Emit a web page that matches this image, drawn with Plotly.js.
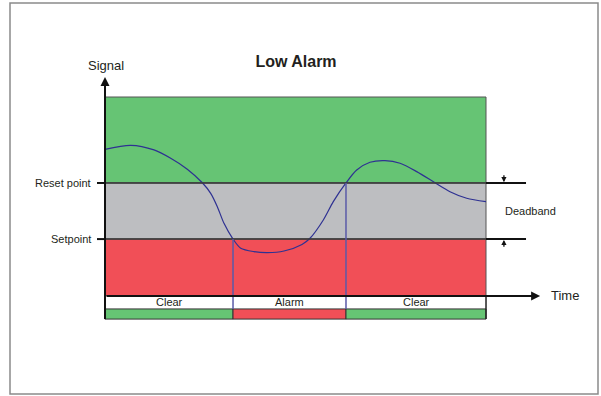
<!DOCTYPE html>
<html>
<head>
<meta charset="utf-8">
<script src="https://cdn.plot.ly/plotly-3.0.1.min.js"></script>
<style>html,body{margin:0;padding:0;background:#fff;}#chart{width:601px;height:396px;}</style>
</head>
<body>
<div id="chart"></div>
<script>
// ---- data ----
const timeVals   = [0, 6.75, 12.86, 17.24, 21.6, 25.54, 27.74, 29.48, 31.23, 33.6, 35.62, 39.11, 42.6, 46.98, 51.7, 53.8, 57.3, 59.92, 63.25, 66.06, 69.55, 73.49, 77.43, 81.81, 86.61, 90.55, 94.93, 100];
const signalVals = [73.7, 75.7, 73.4, 69.2, 63.7, 56.9, 51.6, 44.9, 36.5, 28.6, 24.0, 22.3, 21.8, 22.6, 25.9, 29.0, 38.2, 47.4, 56.8, 63.3, 67.2, 68.0, 66.7, 62.5, 56.9, 52.4, 49.1, 47.4];
const setpoint = 28.6;
const resetPoint = 56.8;
const signalTop = 100;
const timeEnd = 100;
const stateLabels = ['Clear', 'Alarm', 'Clear'];
const stateStarts = [0, 33.6, 63.25];
const stateEnds   = [33.6, 63.25, 100];
const stateKinds  = ['clear', 'alarm', 'clear'];
const levelLabels = ['Reset point', 'Setpoint'];
const levelValues = [resetPoint, setpoint];

// ---- styles ----
const GREEN = '#66c474', GRAY = '#bdbec1', RED = '#f14f57';
const TXT = '#231f20';
const FONT = 'Liberation Sans, Arial, sans-serif';
const rowH = 6.5, barH = 5.1;

const shapes = [];
// outer frame
shapes.push({type:'rect', xref:'paper', yref:'paper', x0:10/601, x1:598/601, y0:1-394/396, y1:1-3/396,
  line:{color:'#8a8a8a', width:1.5}, fillcolor:'rgba(0,0,0,0)', layer:'below'});
// bands
shapes.push({type:'rect', x0:0, x1:timeEnd, y0:resetPoint, y1:signalTop, fillcolor:GREEN, line:{color:'#555', width:1}, layer:'below'});
shapes.push({type:'rect', x0:0, x1:timeEnd, y0:setpoint, y1:resetPoint, fillcolor:GRAY, line:{color:'#555', width:1}, layer:'below'});
shapes.push({type:'rect', x0:0, x1:timeEnd, y0:0, y1:setpoint, fillcolor:RED, line:{color:'#555', width:1}, layer:'below'});
// level lines and extensions
levelValues.forEach(v => {
  shapes.push({type:'line', x0:0, x1:timeEnd, y0:v, y1:v, line:{color:'#3a3a3a', width:1.5}});
  shapes.push({type:'line', x0:timeEnd, x1:110.5, y0:v, y1:v, line:{color:'#111', width:2}});
  shapes.push({type:'line', x0:-2.1, x1:0, y0:v, y1:v, line:{color:'#111', width:2}});
});
// status row and colour bar
stateLabels.forEach((lab, i) => {
  shapes.push({type:'rect', x0:stateStarts[i], x1:stateEnds[i], y0:-rowH, y1:0, fillcolor:'#fff', line:{width:0}});
  shapes.push({type:'rect', x0:stateStarts[i], x1:stateEnds[i], y0:-rowH-barH, y1:-rowH,
    fillcolor: stateKinds[i] === 'alarm' ? RED : GREEN, line:{color:'#333', width:1}});
});
shapes.push({type:'line', x0:timeEnd, x1:timeEnd, y0:-rowH-barH, y1:0, line:{color:'#222', width:1.5}});
shapes.push({type:'line', x0:0, x1:0, y0:-rowH-barH, y1:0, line:{color:'#111', width:2}});
// transition lines
shapes.push({type:'line', x0:stateStarts[1], x1:stateStarts[1], y0:-rowH, y1:setpoint, line:{color:'#5a5aa8', width:1.5}});
shapes.push({type:'line', x0:stateStarts[2], x1:stateStarts[2], y0:-rowH, y1:resetPoint, line:{color:'#5a5aa8', width:1.5}});

const ann = [];
// axes with arrows
ann.push({x:0, y:110, ax:0, ay:-rowH-barH, axref:'x', ayref:'y', xref:'x', yref:'y', text:'', showarrow:true,
  arrowhead:2, arrowsize:0.9, arrowwidth:2, arrowcolor:'#111'});
ann.push({x:114.2, y:0, ax:0, ay:0, axref:'x', ayref:'y', xref:'x', yref:'y', text:'', showarrow:true,
  arrowhead:2, arrowsize:0.9, arrowwidth:2, arrowcolor:'#111'});
// deadband small arrows
ann.push({x:104.7, y:resetPoint + 0.4, ax:104.7, ay:resetPoint + 4.6, axref:'x', ayref:'y', text:'', showarrow:true,
  arrowhead:2, arrowsize:0.8, arrowwidth:1.3, arrowcolor:'#111'});
ann.push({x:104.7, y:setpoint - 0.4, ax:104.7, ay:setpoint - 4.6, axref:'x', ayref:'y', text:'', showarrow:true,
  arrowhead:2, arrowsize:0.8, arrowwidth:1.3, arrowcolor:'#111'});
// texts
ann.push({x:0.3, y:115.6, text:'Signal', showarrow:false, font:{family:FONT, size:13, color:TXT}});
ann.push({x:116.5, y:0.4, text:'Time', showarrow:false, xanchor:'left', font:{family:FONT, size:13, color:TXT}});
ann.push({x:104.5, y:(setpoint + resetPoint) / 2, text:'Deadband', showarrow:false, xanchor:'left', font:{family:FONT, size:11, color:TXT}});
levelLabels.forEach((lab, i) => {
  ann.push({x:-3.2, y:levelValues[i], text:lab, showarrow:false, xanchor:'right', font:{family:FONT, size:11, color:TXT}});
});
stateLabels.forEach((lab, i) => {
  ann.push({x:(stateStarts[i] + stateEnds[i]) / 2, y:-rowH / 2, text:lab, showarrow:false, font:{family:FONT, size:11, color:TXT}});
});

const trace = {x:timeVals, y:signalVals, mode:'lines', type:'scatter',
  line:{color:'#2e3192', width:1.2, shape:'spline', smoothing:0.8}, hoverinfo:'skip', cliponaxis:false};

const layout = {
  width:601, height:396, margin:{l:0, r:0, t:0, b:0},
  paper_bgcolor:'#fff', plot_bgcolor:'#fff', showlegend:false,
  title:{text:'<b>Low Alarm</b>', x:296/601, y:1 - 61/396, xanchor:'center', yanchor:'middle',
    font:{family:FONT, size:16, color:TXT}},
  xaxis:{range:[-27.56, 130.18], visible:false, fixedrange:true},
  yaxis:{range:[-50.25, 148.74], visible:false, fixedrange:true},
  shapes:shapes, annotations:ann
};
Plotly.newPlot('chart', [trace], layout, {displayModeBar:false, staticPlot:true});
</script>
</body>
</html>
